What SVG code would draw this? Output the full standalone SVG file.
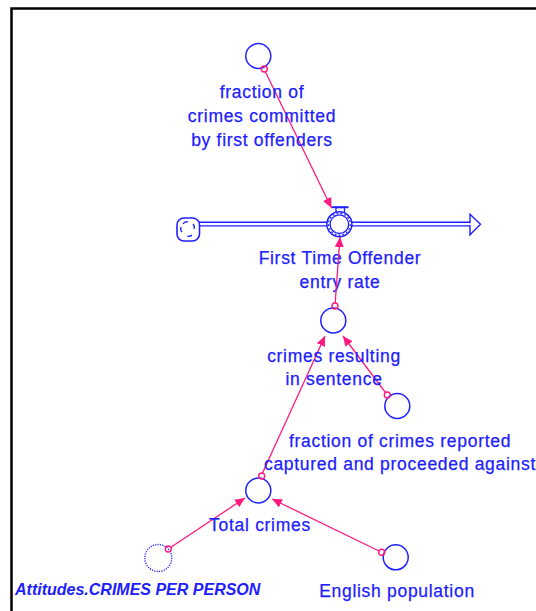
<svg xmlns="http://www.w3.org/2000/svg" width="536" height="611" viewBox="0 0 536 611">
<defs>
<style>
.lbl{font-family:"Liberation Sans",Arial,sans-serif;font-size:17.5px;letter-spacing:0.7px;fill:#2020ff;stroke:#2020ff;stroke-width:0.25;text-anchor:middle}
.ghost{font-family:"Liberation Sans",Arial,sans-serif;font-size:16px;font-weight:bold;font-style:italic;fill:#2020ff}
.aux{fill:#fff;stroke:#2020ff;stroke-width:1.5}
.link{stroke:#ff1a80;stroke-width:1.3;fill:none}
.tail{fill:none;stroke:#ff1a80;stroke-width:1.4}
.pipe{stroke:#2020ff;stroke-width:1.4;fill:none}
</style>
<marker id="ah" viewBox="0 0 10 10" refX="10" refY="5" markerWidth="10" markerHeight="10" markerUnits="userSpaceOnUse" orient="auto">
<path d="M0,0.5 L10,5 L0,9.5 Z" fill="#ff1a80"/>
</marker>
</defs>
<rect width="536" height="611" fill="#fff"/>
<path d="M11.5,611 V8.5 H536" stroke="#000" stroke-width="2.5" fill="none"/>

<g id="flow-first-time-offender-entry-rate">
<line class="pipe" x1="198" y1="222.3" x2="471" y2="222.3"/>
<line class="pipe" x1="198" y1="225.9" x2="471" y2="225.9"/>
<g id="cloud">
<rect x="177" y="218" width="22.5" height="23" rx="7" fill="#fff" stroke="#2020ff" stroke-width="1.6"/>
<path d="M183,224 q2,-3 5,-2 M193,224 q2,2 1,5 M192,235 q-2,2 -5,1 M182,232 q-2,-2 -1,-5" stroke="#2020ff" stroke-width="1.3" fill="none"/>
</g>
<path d="M470,214.3 L480.5,224.2 L470,234.8 Z" fill="#fff" stroke="#2020ff" stroke-width="1.4"/>
<line x1="470" y1="223.2" x2="470" y2="225" stroke="#fff" stroke-width="2.2"/>
<rect x="336" y="207.5" width="8.5" height="5.5" fill="#fff" stroke="#2020ff" stroke-width="1.3"/>
<line x1="331.5" y1="207.2" x2="348.5" y2="207.2" stroke="#2020ff" stroke-width="2"/>
<circle cx="339.4" cy="224.2" r="12.5" fill="#fff" stroke="#2020ff" stroke-width="1.5"/>
<circle cx="339.4" cy="224.2" r="9.3" fill="none" stroke="#2020ff" stroke-width="1.4"/>
<circle cx="339.4" cy="224.2" r="10.9" fill="none" stroke="#2020ff" stroke-width="1.2" stroke-dasharray="2 2"/>
<text class="lbl" x="340" y="264">First Time Offender</text>
<text class="lbl" x="340" y="288">entry rate</text>
</g>

<g id="connectors">
<line class="link" x1="265" y1="71" x2="331.5" y2="208" marker-end="url(#ah)"/>
<line class="link" x1="335.2" y1="303" x2="340" y2="237" marker-end="url(#ah)"/>
<line class="link" x1="262.5" y1="473" x2="325" y2="336" marker-end="url(#ah)"/>
<line class="link" x1="385.5" y1="392.5" x2="343" y2="336" marker-end="url(#ah)"/>
<line class="link" x1="170.5" y1="547.5" x2="245" y2="498" marker-end="url(#ah)"/>
<line class="link" x1="379" y1="551" x2="272" y2="499" marker-end="url(#ah)"/>
</g>

<g id="fraction-committed-by-first-offenders">
<circle class="aux" cx="258.3" cy="56" r="12.5"/>
<circle class="tail" cx="264.3" cy="69" r="3"/>
<text class="lbl" x="262" y="98">fraction of</text>
<text class="lbl" x="262" y="122">crimes committed</text>
<text class="lbl" x="262" y="146">by first offenders</text>
</g>

<g id="crimes-resulting-in-sentence">
<circle class="aux" cx="333.3" cy="320.5" r="12.5"/>
<circle class="tail" cx="335" cy="306" r="3"/>
<text class="lbl" x="334" y="362">crimes resulting</text>
<text class="lbl" x="334" y="385">in sentence</text>
</g>

<g id="fraction-reported">
<circle class="aux" cx="397.3" cy="406" r="12.5"/>
<circle class="tail" cx="387.3" cy="395" r="3"/>
<text class="lbl" x="400" y="447">fraction of crimes reported</text>
<text class="lbl" x="400" y="470">captured and proceeded against</text>
</g>

<g id="total-crimes">
<circle class="aux" cx="258.3" cy="490.5" r="12.5"/>
<circle class="tail" cx="261.7" cy="476" r="3"/>
<text class="lbl" x="260" y="531">Total crimes</text>
</g>

<g id="attitudes-crimes-per-person">
<circle cx="158.3" cy="558" r="13.5" fill="#fff" stroke="#2020ff" stroke-width="1.3" stroke-dasharray="1.2 1.2"/>
<circle class="tail" cx="168.3" cy="549" r="3"/>
<text class="ghost" x="15" y="595">Attitudes.CRIMES PER PERSON</text>
</g>

<g id="english-population">
<circle class="aux" cx="395.7" cy="557.3" r="12.5"/>
<circle class="tail" cx="381.7" cy="552.3" r="3"/>
<text class="lbl" x="397" y="597">English population</text>
</g>
</svg>
